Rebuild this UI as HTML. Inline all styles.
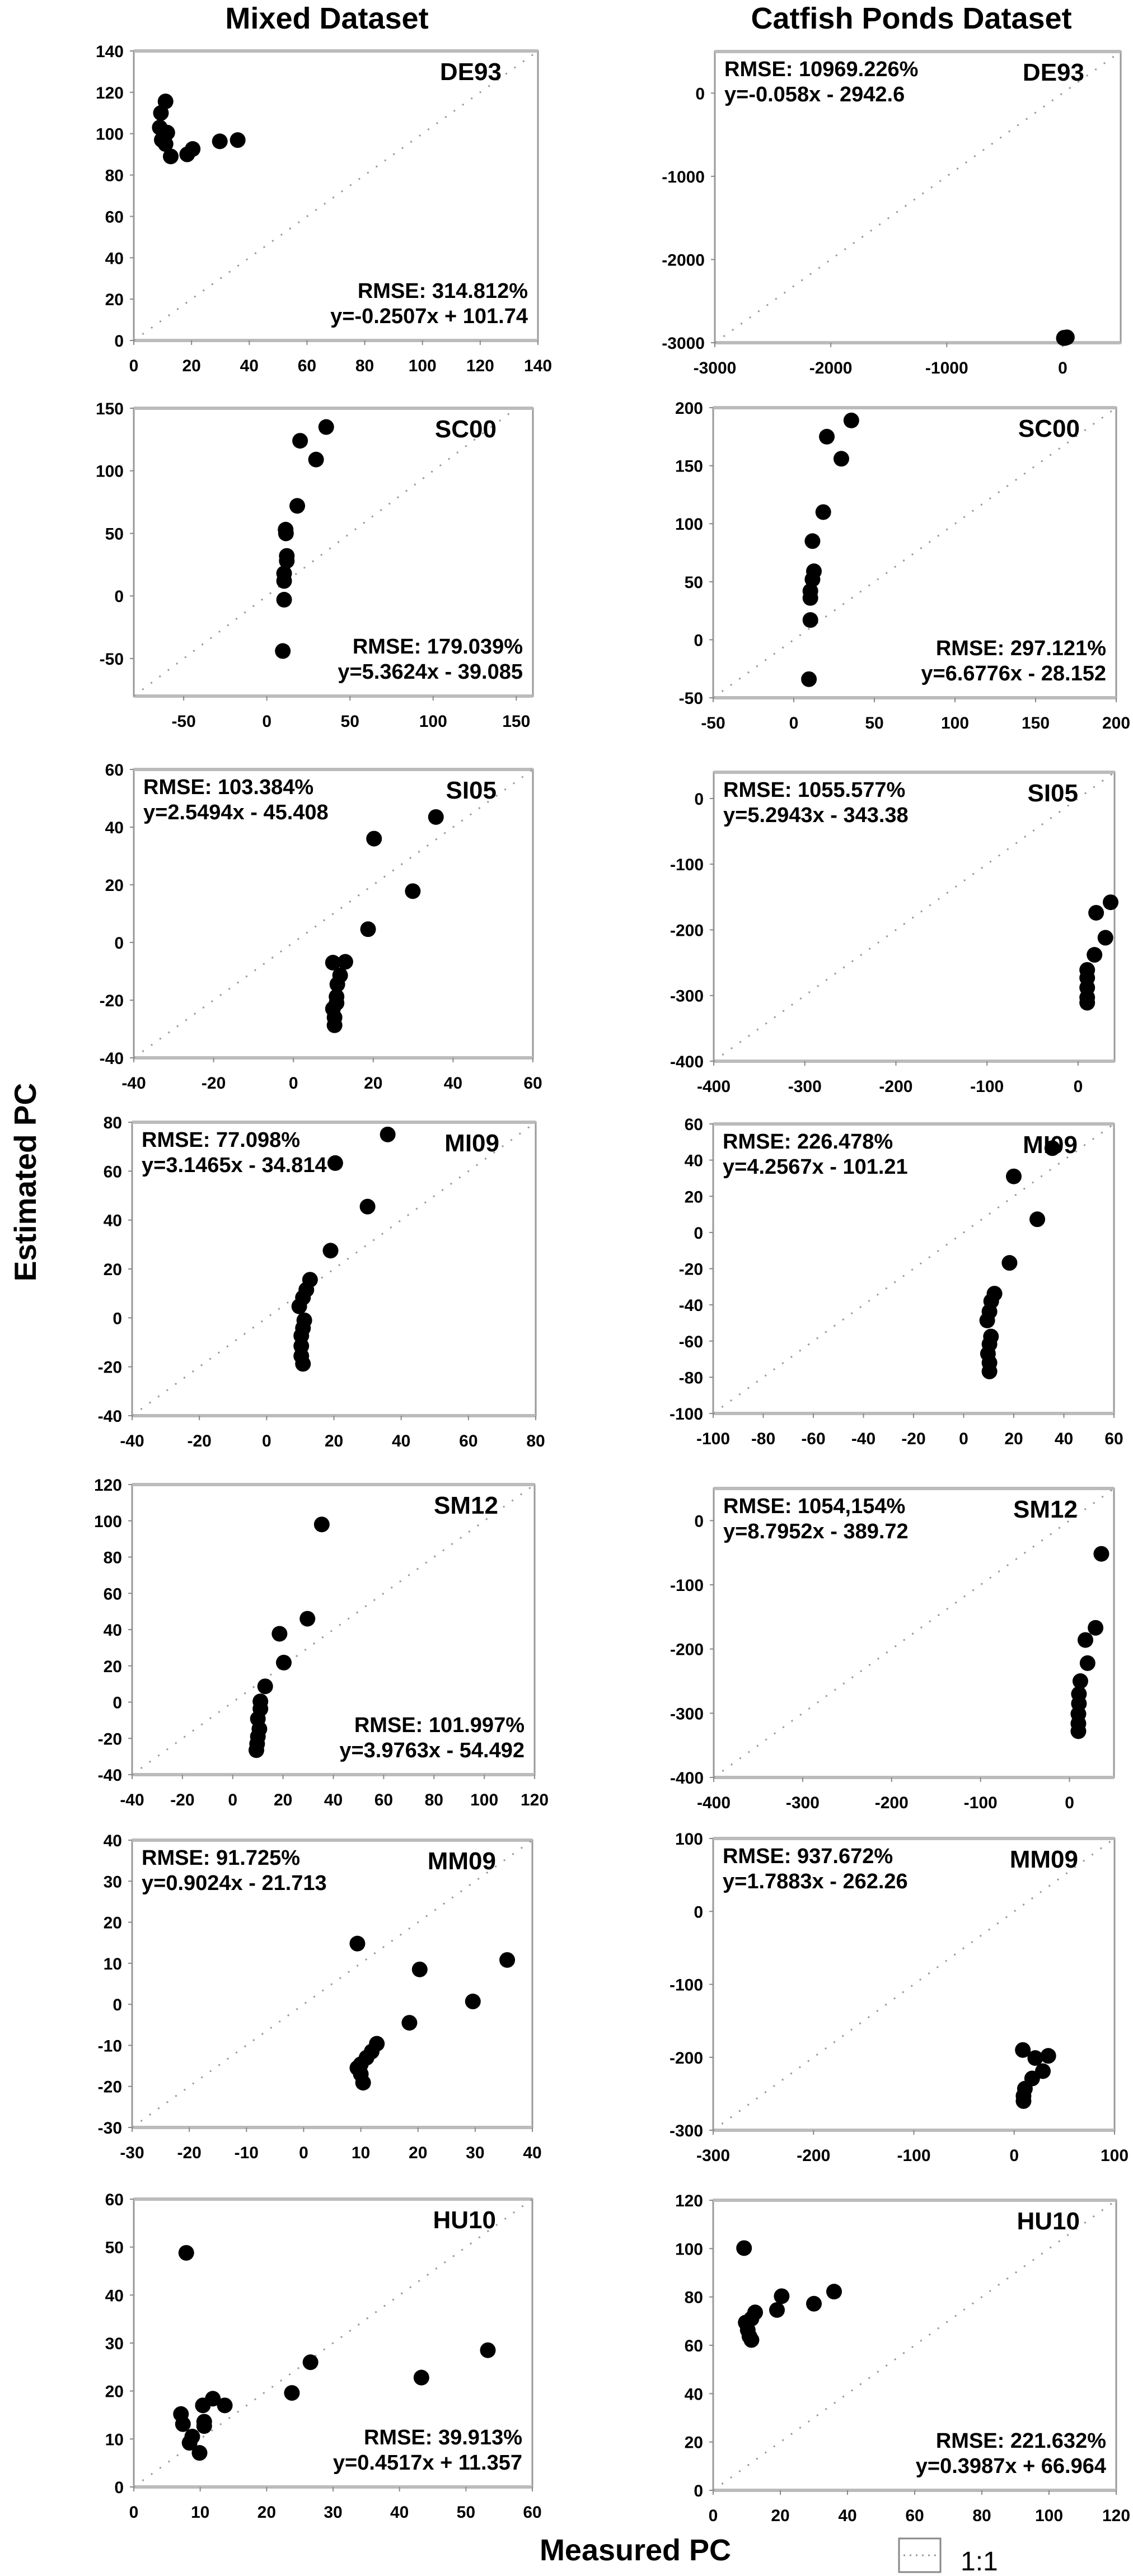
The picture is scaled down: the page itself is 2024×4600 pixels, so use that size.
<!DOCTYPE html>
<html><head><meta charset="utf-8"><style>
html,body{margin:0;padding:0;background:#fff;}
svg{display:block;}
text{font-family:"Liberation Sans",Arial,sans-serif;}
</style></head>
<body>
<svg id="fig" width="2024" height="4600" viewBox="0 0 2024 4600" xmlns="http://www.w3.org/2000/svg">
<rect x="0" y="0" width="2024" height="4600" fill="#fff"/>
<text x="584" y="51" font-size="54" font-weight="bold" text-anchor="middle">Mixed Dataset</text>
<text x="1628" y="51" font-size="54" font-weight="bold" text-anchor="middle">Catfish Ponds Dataset</text>
<text transform="translate(64,2111) rotate(-90)" font-size="55" font-weight="bold" text-anchor="middle">Estimated PC</text>
<text x="1135" y="4572" font-size="54" font-weight="bold" text-anchor="middle">Measured PC</text>
<g>
<rect x="1606" y="4533" width="74" height="60" fill="#fff" stroke="#888" stroke-width="3"/>
<line x1="1614" y1="4563" x2="1672" y2="4563" stroke="#999" stroke-width="3" stroke-dasharray="3 8"/>
<text x="1716" y="4590" font-size="48">1:1</text>
</g>
<g id="panels"></g>
</svg>
<script>
// ---- data arrays ----
const de93MixedX = [11, 9.4, 9, 9.7, 11.6, 11, 12.8, 18.5, 20.4, 29.8, 36];
const de93MixedY = [115.6, 110, 103, 97, 100.5, 95, 89, 90, 92.6, 96.3, 96.9];
const de93CatX = [10, 12, 20, 30, 36];
const de93CatY = [-2945, -2940, -2942, -2938, -2935];
const sc00MixedX = [35.7, 20, 29.6, 18.3, 11.3, 11.5, 12, 12, 10.4, 10.4, 10.4, 9.6];
const sc00MixedY = [135, 124, 109, 72, 53, 50, 32, 28, 18, 12, -3, -44];
const sc00CatX = [35.7, 20.5, 29.5, 18.3, 11.6, 12.5, 11.6, 10.3, 10.3, 10.3, 9.4];
const sc00CatY = [189, 175, 156, 110, 85, 59, 52, 42, 36, 17, -34];
const si05MixedX = [35.7, 20.2, 29.9, 18.7, 9.9, 13, 11.7, 11, 10.8, 10.8, 9.9, 10.3, 10.3];
const si05MixedY = [43.5, 36, 17.8, 4.6, -7, -6.7, -11.4, -14.5, -18.8, -21, -23, -26, -28.7];
const si05CatX = [35.7, 19.8, 30, 18, 10, 10, 10, 10, 10];
const si05CatY = [-158, -174, -212, -238, -261, -273, -288, -303, -311];
const mi09MixedX = [36, 20.4, 30, 19, 12.9, 11.8, 10.8, 9.7, 11.2, 10.8, 10.3, 10.3, 10.3, 10.8];
const mi09MixedY = [75, 63.3, 45.5, 27.5, 15.6, 11.5, 8.3, 4.7, -1, -4.2, -7.3, -11.5, -15.6, -18.8];
const mi09CatX = [35.4, 20, 29.4, 18.3, 12.3, 11, 10.3, 9.4, 10.9, 10.3, 9.7, 10.3, 10.3];
const mi09CatY = [46.6, 31, 7.3, -16.8, -33.8, -38, -43.7, -48.6, -57.5, -61.7, -67, -72, -76.8];
const sm12MixedX = [35.4, 29.7, 18.6, 20.3, 12.9, 11, 11, 10, 10.6, 10, 9.7, 9.4];
const sm12MixedY = [98, 46, 37.7, 21.8, 8.7, 0.4, -3.7, -9.2, -14.8, -19, -23, -26.5];
const sm12CatX = [35.8, 29.3, 17.9, 20.3, 12.2, 10.6, 10.6, 10, 10, 10];
const sm12CatY = [-51.8, -167, -186, -222, -250, -270, -285, -301, -316, -328];
const mm09MixedX = [9.4, 35.6, 20.3, 29.6, 18.5, 12.8, 11.9, 11, 10, 9.4, 10, 10.4];
const mm09MixedY = [14.8, 10.8, 8.5, 0.7, -4.5, -9.6, -11.5, -13, -14.6, -15.5, -17, -19.1];
const mm09CatX = [8.6, 21, 34, 28.6, 17.9, 10.7, 9.3, 9.3];
const mm09CatY = [-190, -201, -198, -219, -229, -243, -253, -260];
const hu10MixedX = [7.9, 53.3, 26.6, 43.3, 23.8, 11.9, 13.7, 10.4, 7.1, 7.4, 10.6, 10.6, 8.8, 8.4, 9.9];
const hu10MixedY = [48.8, 28.5, 26, 22.8, 19.6, 18.4, 17, 17, 15.2, 13.1, 13.6, 12.7, 10.5, 9.2, 7.1];
const hu10CatX = [9.2, 36, 20.4, 30, 19, 12.5, 11.4, 9.7, 10.3, 10.8, 11.4];
const hu10CatY = [100.2, 82.2, 80.3, 77.2, 74.6, 73.6, 71, 69.4, 66.3, 63.7, 62.2];

// ---- tick label arrays ----
const ticksDE93M = [0, 20, 40, 60, 80, 100, 120, 140];
const ticksDE93C = [-3000, -2000, -1000, 0];
const ticksSC00M = [-50, 0, 50, 100, 150];
const ticksSC00C = [-50, 0, 50, 100, 150, 200];
const ticksSI05M = [-40, -20, 0, 20, 40, 60];
const ticksSI05C = [-400, -300, -200, -100, 0];
const ticksMI09M = [-40, -20, 0, 20, 40, 60, 80];
const ticksMI09C = [-100, -80, -60, -40, -20, 0, 20, 40, 60];
const ticksSM12M = [-40, -20, 0, 20, 40, 60, 80, 100, 120];
const ticksSM12C = [-400, -300, -200, -100, 0];
const ticksMM09M = [-30, -20, -10, 0, 10, 20, 30, 40];
const ticksMM09C = [-300, -200, -100, 0, 100];
const ticksHU10M = [0, 10, 20, 30, 40, 50, 60];
const ticksHU10C = [0, 20, 40, 60, 80, 100, 120];

// ---- domains ----
const domDE93M = [0, 140], domDE93C = [-3000, 500];
const domSC00Mx = [-80, 160], domSC00My = [-80, 150], domSC00C = [-50, 200];
const domSI05M = [-40, 60], domSI05C = [-400, 40];
const domMI09M = [-40, 80], domMI09C = [-100, 60];
const domSM12M = [-40, 120], domSM12C = [-400, 50];
const domMM09M = [-30, 40], domMM09C = [-300, 100];
const domHU10M = [0, 60], domHU10C = [0, 120];

const panels = [
 {key:'de93-mixed', name:'DE93', xs:de93MixedX, ys:de93MixedY, xd:domDE93M, yd:domDE93M, xt:ticksDE93M, yt:ticksDE93M, r:[239,91,961,608], rmse:'RMSE: 314.812%', eq:'y=-0.2507x + 101.74', pos:'br'},
 {key:'de93-catfish', name:'DE93', xs:de93CatX, ys:de93CatY, xd:domDE93C, yd:domDE93C, xt:ticksDE93C, yt:ticksDE93C, r:[1277,92,2002,612], rmse:'RMSE: 10969.226%', eq:'y=-0.058x - 2942.6', pos:'tl'},
 {key:'sc00-mixed', name:'SC00', xs:sc00MixedX, ys:sc00MixedY, xd:domSC00Mx, yd:domSC00My, xt:ticksSC00M, yt:ticksSC00M, r:[239,729,952,1243], rmse:'RMSE: 179.039%', eq:'y=5.3624x - 39.085', pos:'br'},
 {key:'sc00-catfish', name:'SC00', xs:sc00CatX, ys:sc00CatY, xd:domSC00C, yd:domSC00C, xt:ticksSC00C, yt:ticksSC00C, r:[1274,728,1994,1246], rmse:'RMSE: 297.121%', eq:'y=6.6776x - 28.152', pos:'br'},
 {key:'si05-mixed', name:'SI05', xs:si05MixedX, ys:si05MixedY, xd:domSI05M, yd:domSI05M, xt:ticksSI05M, yt:ticksSI05M, r:[239,1374,952,1889], rmse:'RMSE: 103.384%', eq:'y=2.5494x - 45.408', pos:'tl'},
 {key:'si05-catfish', name:'SI05', xs:si05CatX, ys:si05CatY, xd:domSI05C, yd:domSI05C, xt:ticksSI05C, yt:ticksSI05C, r:[1275,1379,1991,1895], rmse:'RMSE: 1055.577%', eq:'y=5.2943x - 343.38', pos:'tl'},
 {key:'mi09-mixed', name:'MI09', xs:mi09MixedX, ys:mi09MixedY, xd:domMI09M, yd:domMI09M, xt:ticksMI09M, yt:ticksMI09M, r:[236,2004,957,2528], rmse:'RMSE: 77.098%', eq:'y=3.1465x - 34.814', pos:'tl'},
 {key:'mi09-catfish', name:'MI09', xs:mi09CatX, ys:mi09CatY, xd:domMI09C, yd:domMI09C, xt:ticksMI09C, yt:ticksMI09C, r:[1274,2007,1990,2524], rmse:'RMSE: 226.478%', eq:'y=4.2567x - 101.21', pos:'tl'},
 {key:'sm12-mixed', name:'SM12', xs:sm12MixedX, ys:sm12MixedY, xd:domSM12M, yd:domSM12M, xt:ticksSM12M, yt:ticksSM12M, r:[236,2651,955,3169], rmse:'RMSE: 101.997%', eq:'y=3.9763x - 54.492', pos:'br'},
 {key:'sm12-catfish', name:'SM12', xs:sm12CatX, ys:sm12CatY, xd:domSM12C, yd:domSM12C, xt:ticksSM12C, yt:ticksSM12C, r:[1275,2658,1990,3174], rmse:'RMSE: 1054,154%', eq:'y=8.7952x - 389.72', pos:'tl'},
 {key:'mm09-mixed', name:'MM09', xs:mm09MixedX, ys:mm09MixedY, xd:domMM09M, yd:domMM09M, xt:ticksMM09M, yt:ticksMM09M, r:[236,3286,951,3799], rmse:'RMSE: 91.725%', eq:'y=0.9024x - 21.713', pos:'tl'},
 {key:'mm09-catfish', name:'MM09', xs:mm09CatX, ys:mm09CatY, xd:domMM09C, yd:domMM09C, xt:ticksMM09C, yt:ticksMM09C, r:[1274,3283,1991,3804], rmse:'RMSE: 937.672%', eq:'y=1.7883x - 262.26', pos:'tl'},
 {key:'hu10-mixed', name:'HU10', xs:hu10MixedX, ys:hu10MixedY, xd:domHU10M, yd:domHU10M, xt:ticksHU10M, yt:ticksHU10M, r:[239,3927,951,4441], rmse:'RMSE: 39.913%', eq:'y=0.4517x + 11.357', pos:'br'},
 {key:'hu10-catfish', name:'HU10', xs:hu10CatX, ys:hu10CatY, xd:domHU10C, yd:domHU10C, xt:ticksHU10C, yt:ticksHU10C, r:[1274,3929,1994,4447], rmse:'RMSE: 221.632%', eq:'y=0.3987x + 66.964', pos:'br'}
];

const NS = 'http://www.w3.org/2000/svg';
const root = document.getElementById('panels');
function mk(tag, attrs, parent) {
  const e = document.createElementNS(NS, tag);
  for (const k in attrs) e.setAttribute(k, attrs[k]);
  parent.appendChild(e);
  return e;
}

panels.forEach(p => {
  const [x0, y0, x1, y1] = p.r;
  const sx = v => x0 + (v - p.xd[0]) / (p.xd[1] - p.xd[0]) * (x1 - x0);
  const sy = v => y1 - (v - p.yd[0]) / (p.yd[1] - p.yd[0]) * (y1 - y0);
  const g = mk('g', {}, root);
  
  

  const frame = mk('rect', {x:x0, y:y0, width:x1-x0, height:y1-y0, fill:'#fff', stroke:'#999', 'stroke-width':3}, g);
  
  
  const top = mk('line', {x1:x0, y1:y0, x2:x1, y2:y0, stroke:'#bbb', 'stroke-width':6}, g);
  
  
  const bot = mk('line', {x1:x0, y1:y1, x2:x1, y2:y1, stroke:'#bbb', 'stroke-width':6}, g);
  
  

  // 1:1 line
  const lo = Math.max(p.xd[0], p.yd[0]), hi = Math.min(p.xd[1], p.yd[1]);
  const diag = mk('line', {x1:sx(lo), y1:sy(lo), x2:sx(hi), y2:sy(hi), stroke:'#999', 'stroke-width':3, 'stroke-dasharray':'3 16'}, g);
  
  

  // ticks
  p.xt.forEach(v => {
    const t = mk('line', {x1:sx(v), y1:y1, x2:sx(v), y2:y1+8, stroke:'#888', 'stroke-width':2}, g);
    
    
    const l = mk('text', {x:sx(v), y:y1+55, 'font-size':30, 'font-weight':'bold', 'text-anchor':'middle'}, g);
    l.textContent = v;
    
    
  });
  p.yt.forEach(v => {
    const t = mk('line', {x1:x0-7, y1:sy(v), x2:x0, y2:sy(v), stroke:'#888', 'stroke-width':2}, g);
    
    
    const l = mk('text', {x:x0-18, y:sy(v)+11, 'font-size':30, 'font-weight':'bold', 'text-anchor':'end'}, g);
    l.textContent = v;
    
    
  });

  // points
  p.xs.forEach((xv, i) => {
    const c = mk('circle', {cx:sx(xv), cy:sy(p.ys[i]), r:14, fill:'#000'}, g);
    
    
  });

  // labels
  const nm = mk('text', {x:x1-65, y:y0+52, 'font-size':44, 'font-weight':'bold', 'text-anchor':'end'}, g);
  nm.textContent = p.name;
  
  
  let a, b, anchor, tx;
  if (p.pos === 'tl') { tx = x0 + 17; anchor = 'start'; a = y0 + 44; b = y0 + 89; }
  else { tx = x1 - 18; anchor = 'end'; a = y1 - 76; b = y1 - 31; }
  const r1 = mk('text', {x:tx, y:a, 'font-size':38, 'font-weight':'bold', 'text-anchor':anchor}, g);
  r1.textContent = p.rmse;
  
  
  const r2 = mk('text', {x:tx, y:b, 'font-size':38, 'font-weight':'bold', 'text-anchor':anchor}, g);
  r2.textContent = p.eq;
  
  
});
</script>
</body></html>
